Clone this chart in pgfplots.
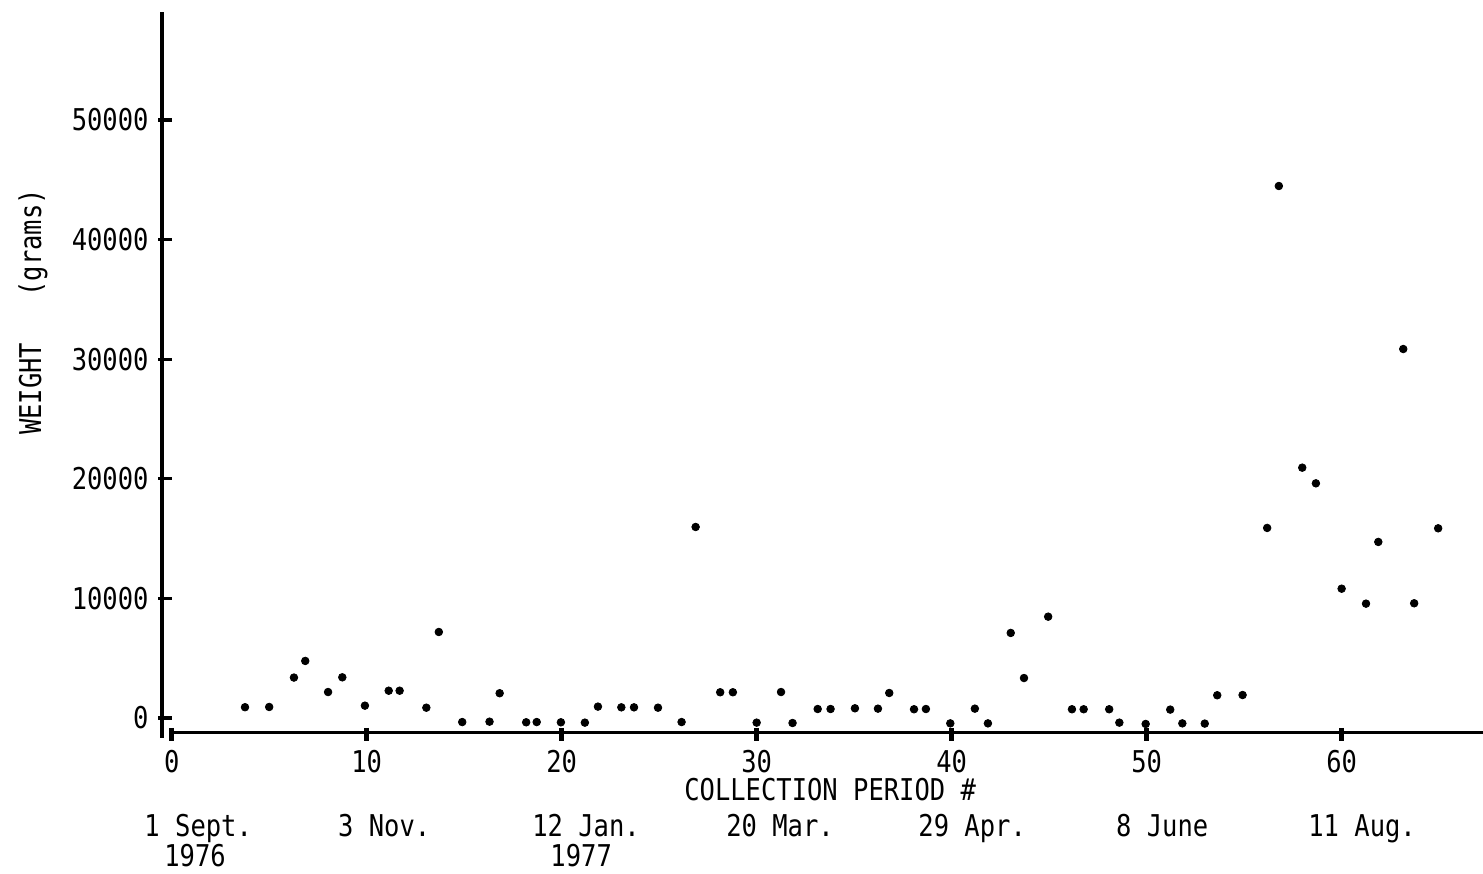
\documentclass[border=0pt]{standalone}
\usepackage{fontspec}
\setmainfont[FakeStretch=0.85]{DejaVu Sans Mono}
\usepackage{pgfplots}
\pgfplotsset{compat=1.18}

% Weight collected in each collection period
\pgfplotstableread{
period weight
3.76 900
5.00 920
6.27 3380
6.85 4770
8.02 2170
8.75 3400
9.91 1030
11.13 2280
11.69 2280
13.06 860
13.70 7190
14.90 -340
16.30 -310
16.82 2070
18.18 -360
18.72 -340
19.96 -360
21.19 -390
21.86 950
23.06 890
23.71 890
24.94 860
26.15 -340
26.87 15970
28.13 2150
28.78 2150
30.00 -390
31.25 2170
31.84 -420
33.13 750
33.79 750
35.04 810
36.22 780
36.80 2090
38.07 730
38.68 750
39.93 -450
41.19 780
41.86 -450
43.03 7110
43.71 3340
44.95 8470
46.17 730
46.77 730
48.08 730
48.60 -390
49.95 -500
51.21 700
51.83 -450
52.98 -470
53.62 1900
54.92 1920
56.18 15890
56.78 44480
57.98 20930
58.68 19620
60.00 10810
61.25 9560
61.88 14720
63.16 30850
63.72 9590
64.95 15860
}\weights

\begin{document}
\fontsize{15}{18}\selectfont
\begin{tikzpicture}
\begin{axis}[
  scale only axis,
  width=660.56pt, height=363.0pt,
  xmin=-0.5, xmax=67.25,
  ymin=-1672, ymax=59030,
  axis x line*=bottom, axis y line*=left,
  axis line style={draw=none},
  major tick length=0pt,
  tick style={draw=none},
  clip=false,
  xtick={0,10,20,30,40,50,60},
  xticklabels={0,10,20,30,40,50,60},
  ytick={0,10000,20000,30000,40000,50000},
  yticklabels={0,10000,20000,30000,40000,50000},
  tick label style={font=\fontsize{15}{18}\selectfont},
  xticklabel style={yshift=-1pt},
  yticklabel style={xshift=-1.5pt},
]
% axis lines and tick bars
\draw[line width=2pt] (axis cs:-0.5,-1672) -- (axis cs:-0.5,59030);
\draw[line width=1.5pt] (axis cs:0,-1254) -- (axis cs:67.25,-1254);
\pgfplotsinvokeforeach{0,10,20,30,40,50,60}{
  \draw[line width=2.4pt] (axis cs:#1,-830) -- (axis cs:#1,-1920);
}
\pgfplotsinvokeforeach{0,10000,20000,30000,40000,50000}{
  \draw[line width=1.6pt] (axis cs:-0.70,#1) -- (axis cs:0.0,#1);
}

\addplot[only marks, mark=*, mark size=1.9pt, black] table[x=period, y=weight] {\weights};

% axis titles
\node[anchor=base] at (axis cs:33.77,-6940) {COLLECTION PERIOD \#};
\node[rotate=90] at (axis cs:-7.11,33950) {WEIGHT\ \ \ (grams)};

% calendar dates of the collection periods
\node[anchor=base] at (axis cs:1.36,-9950) {1 Sept.};
\node[anchor=base] at (axis cs:1.20,-12460) {1976};
\node[anchor=base] at (axis cs:10.9,-9950) {3 Nov.};
\node[anchor=base] at (axis cs:21.25,-9950) {12 Jan.};
\node[anchor=base] at (axis cs:21.0,-12460) {1977};
\node[anchor=base] at (axis cs:31.2,-9950) {20 Mar.};
\node[anchor=base] at (axis cs:41.05,-9950) {29 Apr.};
\node[anchor=base] at (axis cs:50.8,-9950) {8 June};
\node[anchor=base] at (axis cs:61.05,-9950) {11 Aug.};

\coordinate (bbbl) at (axis cs:-8.805,-13043);
\coordinate (bbtr) at (axis cs:67.25,60033);
\end{axis}
\pgfresetboundingbox
\useasboundingbox (bbbl) rectangle (bbtr);
\end{tikzpicture}
\end{document}
